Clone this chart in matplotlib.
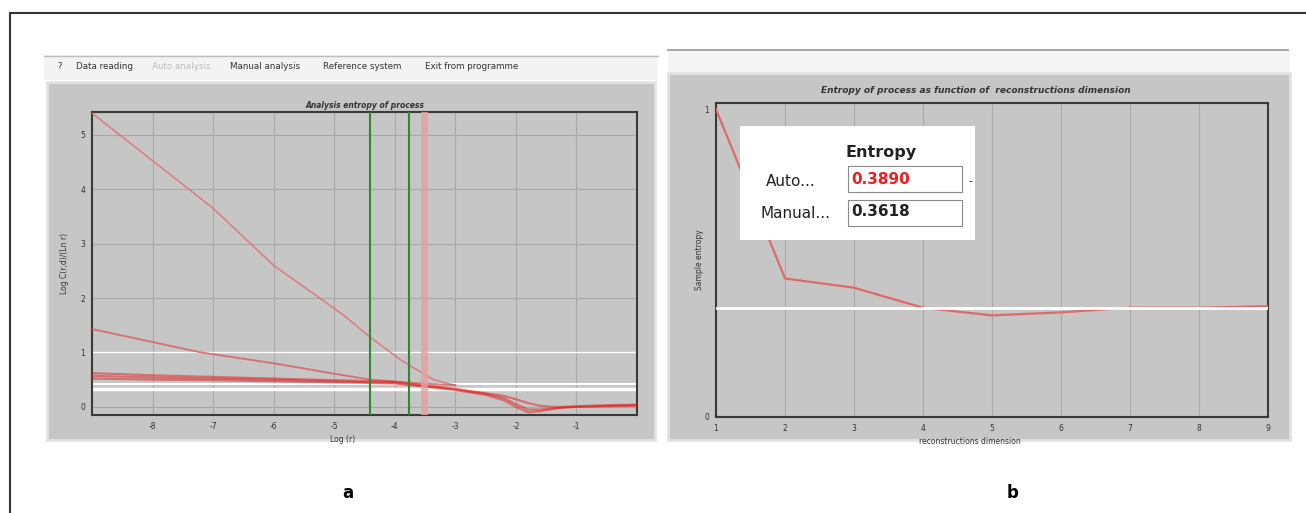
import matplotlib
matplotlib.use("Agg")
import matplotlib.pyplot as plt
from matplotlib.patches import Rectangle

plt.rcParams["axes.unicode_minus"] = False

# ---- data ----
# panel a : entropy analysis, x = Log(r)
a_line1_x = [-9, -7, -6, -4.85, -4.45, -3.9, -3.36, -3.1, -3.0]
a_line1_y = [5.4, 3.65, 2.6, 1.69, 1.32, 0.86, 0.5, 0.42, 0.4]
a_line2_x = [-9, -7.2, -6, -4.9, -4.4, -3.6, -3.0]
a_line2_y = [1.43, 1.0, 0.8, 0.59, 0.5, 0.43, 0.4]
a_bundle_x = [-9, -8, -7, -6, -5, -4, -3, -2.5, -2.2, -2, -1.8, -1.6, -1.4, -1.2, -1, -0.5, 0]
a_bundle_y = [
    [0.62, 0.58, 0.55, 0.52, 0.49, 0.46, 0.33, 0.25, 0.20, 0.14, 0.07, 0.02, 0.00, 0.00, 0.01, 0.03, 0.04],
    [0.57, 0.54, 0.52, 0.50, 0.47, 0.44, 0.32, 0.24, 0.16, 0.05, -0.05, -0.05, -0.03, -0.01, 0.00, 0.02, 0.03],
    [0.52, 0.50, 0.49, 0.47, 0.45, 0.43, 0.31, 0.22, 0.12, 0.00, -0.10, -0.08, -0.04, -0.01, 0.00, 0.01, 0.02],
]
a_white_levels = [1.0, 0.42, 0.33]
a_green_marks = [-4.41, -3.77]
a_red_mark = -3.52
a_xticks = [-8, -7, -6, -5, -4, -3, -2, -1]
a_yticks = [0, 1, 2, 3, 4, 5]

# panel b : entropy vs reconstruction dimension
b_dim = [1, 2, 3, 4, 5, 6, 7, 8, 9]
b_entropy = [1.0, 0.45, 0.42, 0.355, 0.33, 0.34, 0.355, 0.355, 0.36]
b_white_level = 0.355
entropy_auto = "0.3890"
entropy_manual = "0.3618"

menu_items = ["?", "Data reading", "Auto analysis", "Manual analysis", "Reference system", "Exit from programme"]
menu_x = [57, 76, 152, 230, 323, 425]

W, H = 1306, 513
GRAY = "#c6c6c6"


def box(x0, y0, x1, y1):
    return [x0 / W, 1 - y1 / H, (x1 - x0) / W, (y1 - y0) / H]


def fx(x):
    return x / W


def fy(y):
    return 1 - y / H


def rect(fig, x0, y0, x1, y1, color, ec="none", lw=0, z=-5):
    r = Rectangle((fx(x0), fy(y1)), (x1 - x0) / W, (y1 - y0) / H,
                  transform=fig.transFigure, facecolor=color,
                  edgecolor=ec, linewidth=lw, zorder=z)
    fig.add_artist(r)
    return r


fig = plt.figure(figsize=(W / 100, H / 100), dpi=100)

# outer frame (top and left only)
fig.add_artist(plt.Line2D([fx(10), 1], [fy(13), fy(13)], color="#333333", lw=1.5, transform=fig.transFigure))
fig.add_artist(plt.Line2D([fx(10), fx(10)], [fy(13), 0], color="#333333", lw=1.5, transform=fig.transFigure))

# panel a screenshot background
rect(fig, 44, 55, 658, 80, "#f3f3f3")
fig.add_artist(plt.Line2D([fx(44), fx(658)], [fy(56), fy(56)], color="#bdbdbd", lw=1, transform=fig.transFigure))
rect(fig, 47, 82, 655, 440, GRAY, ec="#e2e2e2", lw=2)
for name, x in zip(menu_items, menu_x):
    col = "#bdbdbd" if name == "Auto analysis" else "#333333"
    fig.text(fx(x), fy(67), name, fontsize=6.3, color=col, va="center", ha="left")

# panel b screenshot background
rect(fig, 668, 50, 1290, 72, "#f4f4f4")
fig.add_artist(plt.Line2D([fx(668), fx(1288)], [fy(50), fy(50)], color="#9a9a9a", lw=1.2, transform=fig.transFigure))
rect(fig, 668, 73, 1290, 440, GRAY, ec="#e2e2e2", lw=2)

# ---- panel a ----
ax = fig.add_axes(box(92, 112, 637, 415))
ax.set_facecolor(GRAY)
ax.set_xlim(-9, 0)
ax.set_ylim(-0.15, 5.42)
ax.set_xticks(a_xticks)
ax.set_yticks(a_yticks)
ax.grid(True, color="#a8a8a8", lw=0.8)
ax.set_axisbelow(True)
for yv, lw in zip(a_white_levels, [1.0, 1.5, 2.5]):
    ax.axhline(yv, color="white", lw=lw, zorder=2)
ax.plot(a_line1_x, a_line1_y, color="#e07070", lw=1.2, alpha=0.8, zorder=3)
ax.plot(a_line2_x, a_line2_y, color="#d86060", lw=1.4, alpha=0.8, zorder=3)
for ys in a_bundle_y:
    ax.plot(a_bundle_x, ys, color="#e02020", lw=1.6, alpha=0.5, zorder=3)
for xv in a_green_marks:
    ax.axvline(xv, color="#2f8a2f", lw=1.5, zorder=4)
ax.axvline(a_red_mark, color="#e8a0a0", lw=5, alpha=0.8, zorder=4)
ax.set_title("Analysis entropy of process", fontsize=5.5, style="italic", fontweight="bold",
             color="#333333", pad=3)
ax.set_xlabel("Log (r)", fontsize=5.5, color="#333333", labelpad=3, x=0.46)
ax.set_ylabel("Log C(r,d)/(Ln r)", fontsize=5.5, color="#333333", labelpad=8)
ax.tick_params(length=0, labelsize=5.5, labelcolor="#333333", pad=5)
for s in ax.spines.values():
    s.set_color("#3a3a3a")
    s.set_linewidth(1.5)

# ---- panel b ----
bx = fig.add_axes(box(716, 103, 1268, 417))
bx.set_facecolor(GRAY)
bx.set_xlim(1, 9)
bx.set_ylim(0, 1.02)
bx.set_xticks(b_dim)
bx.set_yticks([0, 1])
bx.grid(True, axis="x", color="#a8a8a8", lw=0.8)
bx.set_axisbelow(True)
bx.plot(b_dim, b_entropy, color="#e06a6a", lw=1.6, zorder=3)
bx.axhline(b_white_level, color="white", lw=2, zorder=4)
fig.text(fx(976), fy(91), "Entropy of process as function of  reconstructions dimension", fontsize=6.5,
         style="italic", fontweight="bold", color="#333333", ha="center", va="center")
bx.set_xlabel("reconstructions dimension", fontsize=5.5, color="#333333", labelpad=3, x=0.46)
bx.set_ylabel("Sample entropy", fontsize=5.5, color="#333333", labelpad=0)
bx.tick_params(length=0, labelsize=5.5, labelcolor="#333333", pad=5)
for s in bx.spines.values():
    s.set_color("#3a3a3a")
    s.set_linewidth(1.5)

# entropy info box (drawn above the axes)
rect(fig, 740, 126, 975, 240, "white", z=5)
for y0 in (166, 200):
    rect(fig, 848, y0, 962, y0 + 26, "white", ec="#8a8a8a", lw=0.8, z=6)
fig.text(fx(881), fy(152), "Entropy", fontsize=11.5, fontweight="bold", color="#222222", ha="center", va="center", zorder=7)
fig.text(fx(766), fy(182), "Auto...", fontsize=11, color="#222222", ha="left", va="center", zorder=7)
fig.text(fx(760), fy(213), "Manual...", fontsize=11, color="#222222", ha="left", va="center", zorder=7)
fig.text(fx(851), fy(180), entropy_auto, fontsize=11, fontweight="bold", color="#e82020", ha="left", va="center", zorder=7)
fig.text(fx(851), fy(212), entropy_manual, fontsize=11, fontweight="bold", color="#222222", ha="left", va="center", zorder=7)
fig.text(fx(970), fy(181), "-", fontsize=8, color="#222222", ha="center", va="center", zorder=7)

# panel letters
fig.text(fx(348), fy(493), "a", fontsize=12, fontweight="bold", ha="center", va="center")
fig.text(fx(1013), fy(493), "b", fontsize=12, fontweight="bold", ha="center", va="center")

fig.savefig("out.png", dpi=100)
